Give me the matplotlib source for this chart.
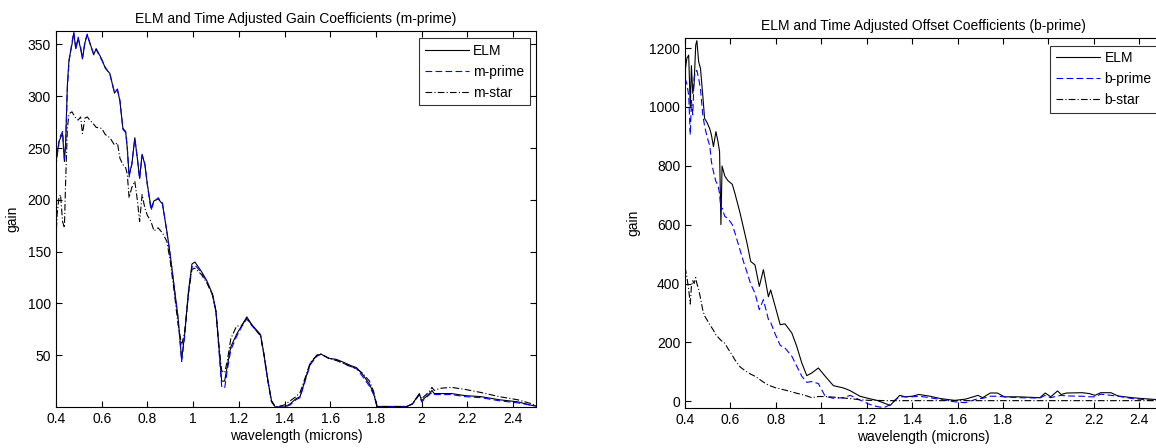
import matplotlib
matplotlib.use('Agg')

from matplotlib import pyplot as plt

plt.rcParams['font.family'] = ['Liberation Sans', 'DejaVu Sans']

# gain coefficients (left panel)
wl_m = [0.40, 0.405, 0.413, 0.42, 0.429, 0.437, 0.442, 0.45, 0.457, 0.47,
        0.478, 0.487, 0.497, 0.508, 0.516, 0.527, 0.537, 0.548, 0.565, 0.576,
        0.6, 0.616, 0.636, 0.656, 0.669, 0.68, 0.693, 0.705, 0.712, 0.72,
        0.732, 0.745, 0.756, 0.766, 0.777, 0.789, 0.80, 0.816, 0.829, 0.847,
        0.866, 0.885, 0.9, 0.918, 0.934, 0.95, 0.963, 0.98, 0.995, 1.008,
        1.036, 1.06, 1.085, 1.10, 1.112, 1.125, 1.138, 1.15, 1.165, 1.19,
        1.214, 1.235, 1.255, 1.275, 1.295, 1.31, 1.327, 1.343, 1.36, 1.40,
        1.425, 1.45, 1.468, 1.49, 1.513, 1.542, 1.56, 1.594, 1.627, 1.66,
        1.69, 1.715, 1.74, 1.772, 1.79, 1.805, 1.935, 1.96, 1.975, 1.99,
        2.0, 2.034, 2.045, 2.055, 2.08, 2.13, 2.19, 2.26, 2.34, 2.42,
        2.484, 2.5]
m_elm = [235, 244, 256, 260, 264, 237, 253, 311, 335, 350,
         361, 346, 356, 346, 336, 352, 359, 352, 340, 346,
         336, 327, 322, 303, 307, 295, 269, 266, 250, 224,
         234, 260, 240, 221, 244, 234, 215, 192, 199, 201,
         196, 170, 147, 115, 87, 46, 70, 112, 138, 140,
         131, 122, 109, 93, 61, 25, 25, 40, 58, 70,
         79, 87, 80, 75, 70, 51, 26, 6, 0, 0,
         3, 8, 10, 26, 42, 50, 51, 47, 46, 43,
         40, 38, 32, 22, 13, 0.5, 0.5, 3, 8, 13,
         6, 13, 16, 13, 13, 13, 11, 10, 7, 5,
         1.5, 1]
m_prime = [232, 242, 255, 262, 266, 240, 250, 308, 333, 352,
           362, 345, 357, 347, 337, 353, 360, 351, 341, 345,
           335, 328, 321, 304, 306, 296, 268, 265, 251, 222,
           235, 259, 241, 220, 243, 235, 214, 190, 198, 202,
           197, 169, 146, 114, 86, 44, 68, 110, 135, 137,
           130, 121, 108, 92, 58, 20, 18, 36, 55, 68,
           78, 85, 79, 74, 69, 50, 25, 5, 0, 0,
           2, 7, 9, 25, 41, 49, 51, 47, 45, 42,
           39, 37, 30, 20, 12, 0.5, 0.5, 3, 7, 12,
           5, 12, 14, 12, 12, 12, 10, 9, 6, 4,
           1.5, 1]
m_star = [160, 186, 202, 205, 179, 173, 215, 269, 283, 285,
          282, 279, 277, 280, 264, 279, 280, 277, 273, 270,
          269, 263, 260, 253, 255, 240, 234, 231, 225, 202,
          212, 218, 200, 179, 205, 192, 185, 179, 170, 173,
          168, 160, 141, 110, 80, 60, 72, 110, 133, 134,
          128, 120, 108, 92, 62, 35, 33, 45, 66, 78,
          79, 86, 80, 74, 69, 51, 26, 6, 0, 2,
          6, 10, 14, 28, 43, 50, 51, 47, 45, 42,
          39, 37, 33, 25, 15, 0.5, 0.5, 3, 8, 12,
          8, 15, 19, 16, 18, 19, 17, 14, 10, 7,
          3, 1]

# offset coefficients (right panel)
wl_b = [0.400, 0.408, 0.416, 0.423, 0.428, 0.434, 0.440, 0.447, 0.452, 0.460,
        0.468, 0.478, 0.486, 0.498, 0.509, 0.516, 0.525, 0.536, 0.545, 0.552,
        0.558, 0.563, 0.575, 0.588, 0.608,
        0.620, 0.642, 0.657, 0.672, 0.689, 0.708, 0.727, 0.745, 0.767, 0.777,
        0.797, 0.819, 0.840, 0.870, 0.892, 0.914, 0.936, 0.958, 0.987, 1.017,
        1.053, 1.098, 1.127, 1.170, 1.210, 1.245,
        1.275, 1.303, 1.325, 1.345, 1.370, 1.400, 1.430, 1.478, 1.525, 1.587,
        1.634, 1.690, 1.710, 1.744, 1.775, 1.806, 1.870, 1.962, 1.986, 2.010,
        2.040, 2.056, 2.080, 2.150, 2.180, 2.205, 2.230, 2.275, 2.306, 2.369,
        2.416, 2.470, 2.500]
b_elm = [1120, 1165, 1176, 1000, 1140, 1046, 1080, 1210, 1225, 1153,
         1131, 1040, 961, 945, 925, 905, 865, 916, 882, 848,
         600, 799, 765, 750, 737,
         705, 640, 590, 540, 475, 463, 390, 447, 355, 378,
         322, 260, 263, 232, 186, 130, 87, 96, 113, 85,
         53, 45, 36, 17, 9, 3,
         -6, -14, 3, 20, 15, 17, 23, 17, 9, 3,
         7, 20, 12, 28, 28, 15, 15, 12, 28, 15,
         35, 23, 28, 29, 26, 20, 29, 29, 18, 12,
         9, 6, 5]
b_prime = [1097, 1079, 1040, 905, 1022, 973, 1100, 1120, 1124, 1097,
           1060, 973, 935, 895, 868, 814, 780, 746, 735, 705,
           650, 656, 628, 622, 600,
           571, 514, 475, 440, 398, 367, 311, 345, 278, 268,
           228, 190, 181, 153, 119, 85, 64, 67, 60, 17,
           10, 12, 20, 4, -10, -18,
           -22, -12, 5, 15, 15, 15, 17, 12, 6, -2,
           -5, 9, 10, 17, 17, 15, 12, 11, 20, 12,
           18, 20, 18, 17, 15, 15, 24, 20, 17, 9,
           6, 3, 3]
b_star = [456, 422, 380, 330, 390, 410, 400, 420, 400, 380,
          350, 310, 290, 275, 260, 252, 241, 225, 218, 212,
          207, 204, 197, 180, 156,
          140, 117, 108, 100, 92, 85, 75, 65, 55, 52,
          46, 42, 38, 32, 27, 23, 18, 12, 16, 16,
          14, 11, 9, 5, 3, 3,
          2, 2, 2, 2, 2, 2, 2, 2, 2, 2,
          2, 2, 2, 2, 2, 2, 2, 2, 2, 2,
          2, 2, 2, 2, 2, 2, 2, 2, 2, 2,
          2, 2, 2]

xticks = [0.4, 0.6, 0.8, 1.0, 1.2, 1.4, 1.6, 1.8, 2.0, 2.2, 2.4]
xticklabels = ['0.4', '0.6', '0.8', '1', '1.2', '1.4', '1.6', '1.8', '2', '2.2', '2.4']
FS = 10


def style(ax):
    ax.set_xlim(0.4, 2.5)
    ax.set_xticks(xticks)
    ax.set_xticklabels(xticklabels)
    ax.tick_params(direction='in', top=True, right=True, length=4,
                   width=0.8, labelsize=FS, pad=3.5)
    for s in ax.spines.values():
        s.set_linewidth(0.8)
    ax.set_xlabel('wavelength (microns)', fontsize=FS, labelpad=2)
    ax.set_ylabel('gain', fontsize=FS, labelpad=6)


def add_legend(ax, anchor):
    leg = ax.legend(loc='upper right', bbox_to_anchor=anchor, fontsize=FS,
                    fancybox=False, edgecolor='k', handlelength=3.2,
                    handletextpad=0.3, borderpad=0.4, labelspacing=0.5,
                    borderaxespad=0)
    leg.get_frame().set_linewidth(0.8)


fig = plt.figure(figsize=(11.56, 4.48), dpi=100)

ax1 = fig.add_axes([0.0484, 0.0915, 0.4152, 0.8393])
ax1.plot(wl_m, m_elm, '-', color='k', lw=0.8, label='ELM')
ax1.plot(wl_m, m_prime, '--', color='#0000ff', lw=0.8, dashes=(6, 3), label='m-prime')
ax1.plot(wl_m, m_star, '-.', color='k', lw=0.8, dashes=(6, 2, 1, 2), label='m-star')
style(ax1)
ax1.set_ylim(0, 363)
ax1.set_yticks([50, 100, 150, 200, 250, 300, 350])
ax1.set_title('ELM and Time Adjusted Gain Coefficients (m-prime)', fontsize=FS, pad=6)
add_legend(ax1, (0.9875, 0.981))

ax2 = fig.add_axes([0.5926, 0.0886, 0.4126, 0.8259])
ax2.plot(wl_b, b_elm, '-', color='k', lw=0.8, label='ELM')
ax2.plot(wl_b, b_prime, '--', color='#0000ff', lw=0.8, dashes=(6, 3), label='b-prime')
ax2.plot(wl_b, b_star, '-.', color='k', lw=0.8, dashes=(6, 2, 1, 2), label='b-star')
style(ax2)
ax2.set_ylim(-24, 1233)
ax2.set_yticks([0, 200, 400, 600, 800, 1000, 1200])
ax2.set_title('ELM and Time Adjusted Offset Coefficients (b-prime)', fontsize=FS, pad=6)
add_legend(ax2, (0.99, 0.98))

plt.savefig('out.png', dpi=100)
